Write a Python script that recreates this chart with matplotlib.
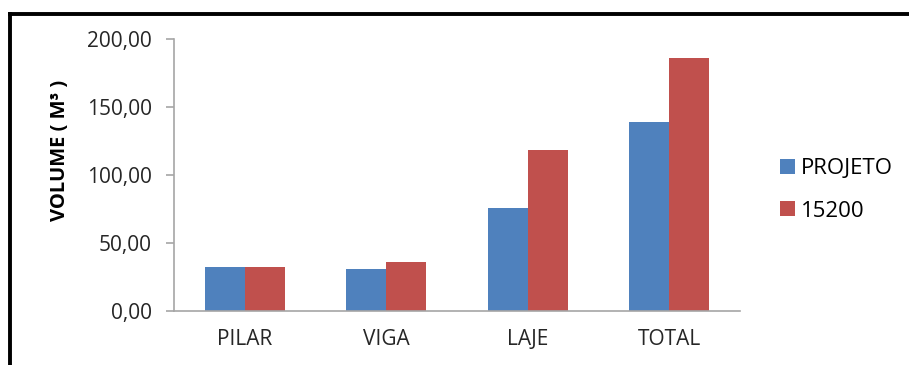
import matplotlib.pyplot as plt
from matplotlib.lines import Line2D
import numpy as np

plt.rcParams['font.family'] = ['Open Sans', 'DejaVu Sans']

categorias = ['PILAR', 'VIGA', 'LAJE', 'TOTAL']
projeto = [32.6, 31.1, 75.7, 139.2]
nbr15200 = [32.6, 35.8, 118.4, 186.3]
series = ['PROJETO', '15200']
cores = ['#4F81BD', '#C0504D']

fig = plt.figure(figsize=[9.09, 3.65], dpi=100)
ax = fig.add_axes([174/909, 1 - 311/365, 566/909, 272/365])

x = np.arange(len(categorias))
w = 0.283
ax.bar(x - w/2, projeto, w, color=cores[0], label=series[0])
ax.bar(x + w/2, nbr15200, w, color=cores[1], label=series[1])

ax.set_xlim(-0.5, len(categorias) - 0.5)
ax.set_ylim(0, 200)
ax.set_yticks([0, 50, 100, 150, 200])
ax.set_yticklabels(['0,00', '50,00', '100,00', '150,00', '200,00'])
ax.set_xticks(x)
ax.set_xticklabels(categorias)

for s in ['top', 'right']:
    ax.spines[s].set_visible(False)
for s in ['left', 'bottom']:
    ax.spines[s].set_color('#A6A6A6')
    ax.spines[s].set_linewidth(1.2)
ax.tick_params(axis='y', length=6, width=1.2, color='#A6A6A6', pad=10, labelsize=15, labelcolor='#262626')
ax.tick_params(axis='x', length=0, pad=13, labelsize=15, labelcolor='#262626')

fig.text(60/909, 1 - 150/365, 'VOLUME ( M³ )', rotation=90, ha='center', va='center',
         fontsize=14.5, fontweight='bold')

ax.legend(loc='center left', bbox_to_anchor=(1.071, 0.445), frameon=False, fontsize=16,
          handlelength=0.65, handleheight=0.65, handletextpad=0.3, labelspacing=0.95,
          borderaxespad=0, borderpad=0)

# moldura
fig.add_artist(Line2D([10/909, 1], [1 - 14/365] * 2, color='black', lw=2.8))
fig.add_artist(Line2D([10/909] * 2, [0, 1 - 14/365], color='black', lw=2.8))

plt.savefig('out.png', dpi=100)
